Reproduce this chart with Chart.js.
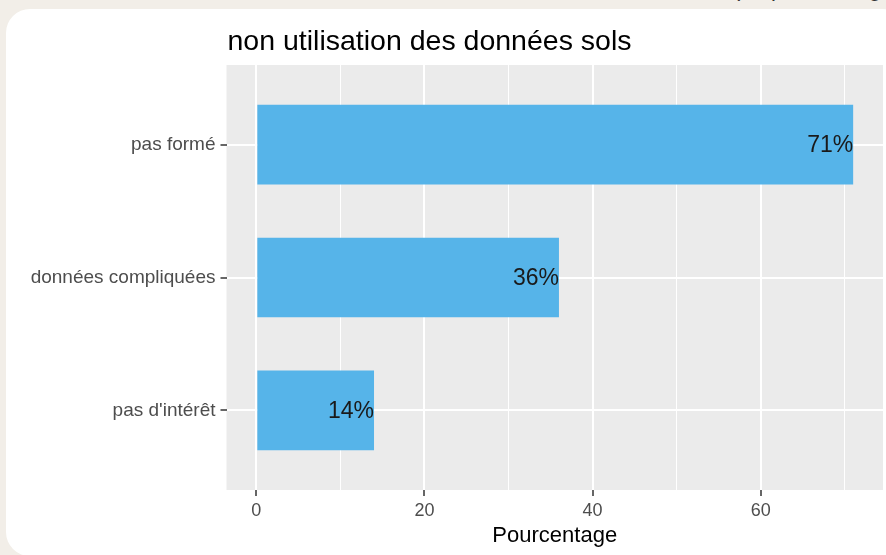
<!DOCTYPE html>
<html lang="fr">
<head>
<meta charset="utf-8">
<title>non utilisation des données sols</title>
<script src="https://cdn.jsdelivr.net/npm/chart.js@4.4.1/dist/chart.umd.min.js"></script>
<style>
	html, body { margin: 0; padding: 0; }
	body { background: #f2eee8; width: 886px; height: 555px; overflow: hidden; position: relative; font-family: "Liberation Sans", Arial, sans-serif; }
	.card { position: absolute; left: 6px; top: 9px; width: 900px; height: 547px; background: #fff; border-radius: 24px; }
	.note { position: absolute; left: 733px; top: -22px; font-size: 22px; line-height: 22px; color: #333; white-space: nowrap; }
	.wrap { position: absolute; left: 0; top: 0; width: 886px; height: 555px; }
</style>
</head>
<body>
<div class="note">(en pourcentage)</div>
<div class="card"></div>
<div class="wrap"><canvas id="solsChart"></canvas></div>
<script>
// raisons de non utilisation (% des répondants)
var titre = 'non utilisation des données sols';
var raisons = ['pas formé', 'données compliquées', "pas d'intérêt"];
var pourcentages = [71, 36, 14];
var xTicks = [0, 10, 20, 30, 40, 50, 60, 70];
var xTitre = 'Pourcentage';

var FONT = '"Liberation Sans", Arial, sans-serif';
var BLEU = '#56b4e9';

// fond gris du panneau, façon ggplot
var panelBg = {
	id: 'panelBg',
	beforeDraw: function(chart) {
		var a = chart.chartArea, ctx = chart.ctx;
		ctx.save();
		ctx.fillStyle = '#ebebeb';
		ctx.fillRect(a.left, a.top, a.right - a.left, a.bottom - a.top);
		ctx.restore();
	}
};

// titre aligné sur le panneau + étiquettes "xx%" au bout des barres
var annotations = {
	id: 'annotations',
	afterDatasetsDraw: function(chart) {
		var ctx = chart.ctx, xs = chart.scales.x, ys = chart.scales.y;
		ctx.save();
		ctx.fillStyle = '#1a1a1a';
		ctx.font = '23px ' + FONT;
		ctx.textAlign = 'right';
		ctx.textBaseline = 'middle';
		for (var i = 0; i < pourcentages.length; i++) {
			ctx.fillText(pourcentages[i] + '%', xs.getPixelForValue(pourcentages[i]), ys.getPixelForValue(i + 1) + 1);
		}
		ctx.fillStyle = '#000';
		ctx.font = '28.5px ' + FONT;
		ctx.textAlign = 'left';
		ctx.textBaseline = 'alphabetic';
		ctx.fillText(titre, chart.chartArea.left + 1, 50);
		ctx.restore();
	}
};

var donnees = raisons.map(function(r, i) {
	return { x: pourcentages[i], y: i + 1 };
});

var xMax = Math.max.apply(null, pourcentages);
var pad = xMax * 0.05;

var ctx = document.getElementById('solsChart').getContext('2d');
var chart = new Chart(ctx, {
	type: 'bar',
	data: {
		datasets: [{
			data: donnees,
			backgroundColor: BLEU,
			borderWidth: 0,
			barPercentage: 0.6,
			categoryPercentage: 1
		}]
	},
	plugins: [panelBg, annotations],
	options: {
		indexAxis: 'y',
		responsive: true,
		maintainAspectRatio: false,
		animation: false,
		layout: { padding: { left: 0, top: 65, right: 3, bottom: 0 } },
		plugins: {
			legend: { display: false },
			tooltip: { enabled: false }
		},
		scales: {
			x: {
				type: 'linear',
				min: -pad,
				max: xMax + pad,
				afterBuildTicks: function(scale) {
					scale.ticks = xTicks.map(function(v) { return { value: v }; });
				},
				afterFit: function(scale) { scale.height = 65; },
				border: { display: false },
				grid: {
					color: '#ffffff',
					lineWidth: function(c) { return c.tick && c.tick.value % 20 === 0 ? 2 : 1; },
					tickColor: function(c) { return c.tick && c.tick.value % 20 === 0 ? '#333333' : 'rgba(0,0,0,0)'; },
					tickWidth: 1.5,
					tickLength: 6
				},
				ticks: {
					autoSkip: false,
					maxRotation: 0,
					padding: 4,
					color: '#4d4d4d',
					font: { family: FONT, size: 18 },
					callback: function(v) { return v % 20 === 0 ? String(v) : ''; }
				},
				title: {
					display: true,
					text: xTitre,
					color: '#000',
					font: { family: FONT, size: 22 },
					padding: { top: 0, bottom: 6 }
				}
			},
			y: {
				type: 'linear',
				reverse: true,
				offset: false,
				min: 0.4,
				max: raisons.length + 0.6,
				afterBuildTicks: function(scale) {
					scale.ticks = raisons.map(function(r, i) { return { value: i + 1 }; });
				},
				afterFit: function(scale) { scale.width = 226.5; },
				border: { display: false },
				grid: {
					offset: false,
					color: '#ffffff',
					lineWidth: 2,
					tickColor: '#333333',
					tickWidth: 1.5,
					tickLength: 6
				},
				ticks: {
					autoSkip: false,
					padding: 5,
					color: '#4d4d4d',
					font: { family: FONT, size: 19 },
					callback: function(v) { return raisons[v - 1]; }
				}
			}
		}
	}
});
</script>
</body>
</html>
